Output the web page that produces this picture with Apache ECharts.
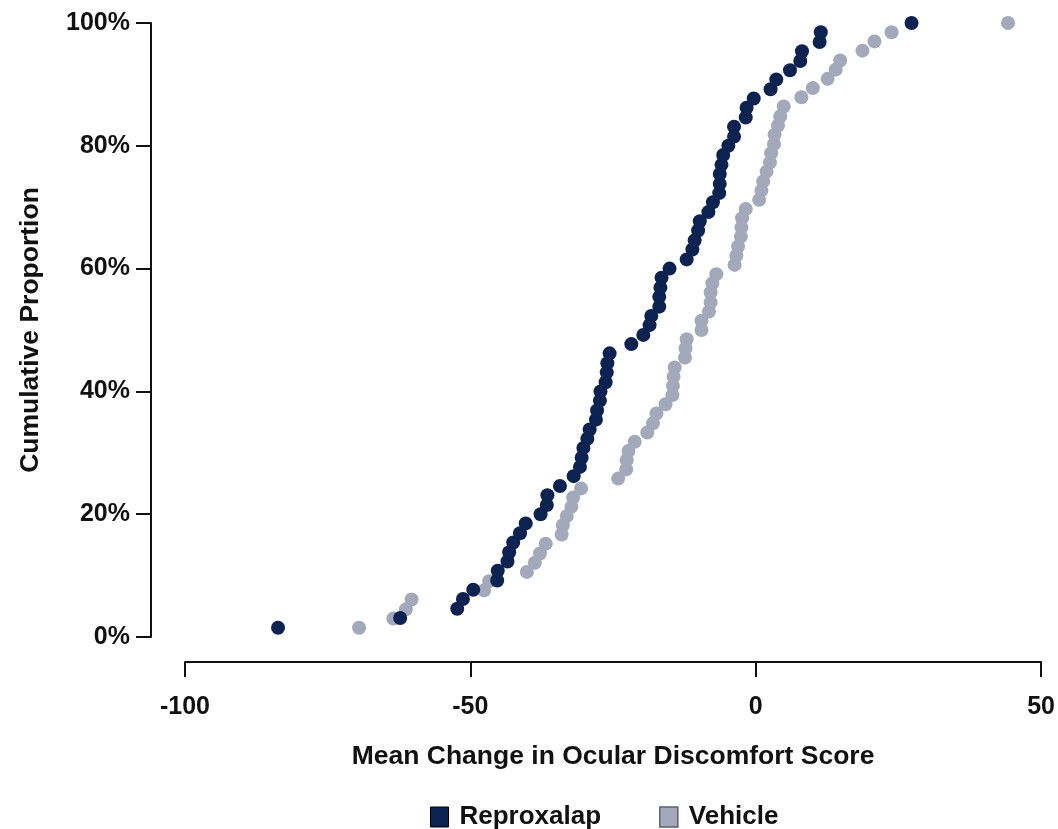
<!DOCTYPE html>
<html>
	<head>
		<meta charset="utf-8" />
		<title>Cumulative Proportion</title>
		<style>
			html, body {
				width: 100%;
				height: 100%;
				margin: 0;
				padding: 0;
				background: #fff;
			}

			#main {
				width: 1058px;
				height: 829px;
			}
		</style>
	</head>
	<body>
		<div id="main"></div>
		<script src="https://cdn.jsdelivr.net/npm/echarts@6/dist/echarts.min.js"></script>
		<script>
			// values
			var reproxX = [-83.7, -62.3, -52.3, -51.3, -49.5, -45.3, -45.2, -43.5, -43.2, -42.5,
				-41.3, -40.3, -37.7, -36.6, -36.5, -34.3, -31.9, -30.8, -30.5, -30.2,
				-29.5, -29.1, -28.0, -27.8, -27.3, -27.2, -26.3, -26.1, -26.0, -25.6,
				-21.8, -19.7, -18.6, -18.3, -16.9, -16.9, -16.7, -16.5, -15.1, -12.1,
				-11.1, -10.7, -10.1, -9.8, -8.3, -7.5, -6.4, -6.3, -6.3, -6.0,
				-5.7, -4.8, -3.8, -3.8, -1.75, -1.6, -0.35, 2.6, 3.6, 6.0,
				7.8, 8.1, 11.2, 11.4, 27.3];
			var reproxY = [1.5, 3.1, 4.6, 6.2, 7.7, 9.2, 10.8, 12.3, 13.8, 15.4,
				16.9, 18.5, 20.0, 21.5, 23.1, 24.6, 26.2, 27.7, 29.2, 30.8,
				32.3, 33.8, 35.4, 36.9, 38.5, 40.0, 41.5, 43.1, 44.6, 46.2,
				47.7, 49.2, 50.8, 52.3, 53.8, 55.4, 56.9, 58.5, 60.0, 61.5,
				63.1, 64.6, 66.2, 67.7, 69.2, 70.8, 72.3, 73.8, 75.4, 76.9,
				78.5, 80.0, 81.5, 83.1, 84.6, 86.2, 87.7, 89.2, 90.8, 92.3,
				93.8, 95.4, 96.9, 98.5, 100];

			var vehicleX = [-69.5, -63.5, -61.3, -60.3, -47.6, -46.7, -40.1, -38.7, -37.8, -36.8,
				-34.0, -33.8, -33.1, -32.3, -32.0, -30.6, -24.1, -22.7, -22.6, -22.3,
				-21.2, -19.0, -18.0, -17.4, -15.8, -14.6, -14.5, -14.4, -14.2, -12.4,
				-12.3, -12.1, -9.5, -9.5, -8.2, -7.9, -7.9, -7.6, -6.9, -3.7,
				-3.4, -3.1, -2.6, -2.5, -2.4, -1.75, 0.6, 1.0, 1.3, 1.9,
				2.5, 2.7, 3.2, 3.3, 3.9, 4.3, 4.9, 8.0, 10.0, 12.6,
				14.0, 14.8, 18.7, 20.8, 23.8, 44.2];
			var vehicleY = [1.5, 3.0, 4.5, 6.1, 7.6, 9.1, 10.6, 12.1, 13.6, 15.2,
				16.7, 18.2, 19.7, 21.2, 22.7, 24.2, 25.8, 27.3, 28.8, 30.3,
				31.8, 33.3, 34.8, 36.4, 37.9, 39.4, 40.9, 42.4, 43.9, 45.5,
				47.0, 48.5, 50.0, 51.5, 53.0, 54.5, 56.1, 57.6, 59.1, 60.6,
				62.1, 63.6, 65.2, 66.7, 68.2, 69.7, 71.2, 72.7, 74.2, 75.8,
				77.3, 78.8, 80.3, 81.8, 83.3, 84.8, 86.4, 87.9, 89.4, 90.9,
				92.4, 93.9, 95.5, 97.0, 98.5, 100];

			var xTicks = [-100, -50, 0, 50];
			var yTicks = [0, 20, 40, 60, 80, 100];

			var navy = '#0c2250';
			var grey = '#a3a9ba';
			var font = "'Liberation Sans', Arial, sans-serif";

			function pairs(xs, ys) {
				var out = [];
				for (var i = 0; i < xs.length; i++) {
					out.push([xs[i], ys[i]]);
				}
				return out;
			}

			var axisLine = { show: true, onZero: false, lineStyle: { color: '#111', width: 2 } };
			var axisTick = { show: true, length: 15, lineStyle: { color: '#111', width: 2 } };

			var chart = echarts.init(document.getElementById('main'), null, { renderer: 'canvas' });
			chart.setOption({
				animation: false,
				backgroundColor: '#fff',
				textStyle: { fontFamily: font },
				grid: { left: 185, right: 16, top: 23, bottom: 192 },
				legend: {
					left: 425,
					top: 799,
					itemWidth: 18,
					itemHeight: 20,
					itemGap: 58,
					icon: 'rect',
					textStyle: { fontFamily: font, fontSize: 26, fontWeight: 'bold', color: '#111', padding: [0, 0, 0, 6] },
					data: [
						{ name: 'Reproxalap', itemStyle: { color: navy, borderColor: '#000', borderWidth: 1 } },
						{ name: 'Vehicle', itemStyle: { color: grey, borderColor: '#5c6070', borderWidth: 1.5 } }
					]
				},
				xAxis: {
					type: 'value',
					min: xTicks[0],
					max: xTicks[xTicks.length - 1],
					interval: 50,
					offset: 25,
					name: 'Mean Change in Ocular Discomfort Score',
					nameLocation: 'middle',
					nameGap: 81,
					nameTextStyle: { fontFamily: font, fontSize: 26.5, fontWeight: 'bold', color: '#111' },
					axisLine: axisLine,
					axisTick: axisTick,
					splitLine: { show: false },
					axisLabel: { margin: 33, fontFamily: font, fontSize: 25, fontWeight: 'bold', color: '#111' }
				},
				yAxis: {
					type: 'value',
					min: yTicks[0],
					max: yTicks[yTicks.length - 1],
					interval: 20,
					offset: 34,
					name: 'Cumulative Proportion',
					nameLocation: 'middle',
					nameGap: 107,
					nameTextStyle: { fontFamily: font, fontSize: 26.5, fontWeight: 'bold', color: '#111' },
					axisLine: axisLine,
					axisTick: axisTick,
					splitLine: { show: false },
					axisLabel: { margin: 21, fontFamily: font, fontSize: 25, fontWeight: 'bold', color: '#111', formatter: '{value}%' }
				},
				series: [
					{
						name: 'Vehicle',
						type: 'scatter',
						symbolSize: 14,
						itemStyle: { color: grey, opacity: 1 },
						data: pairs(vehicleX, vehicleY)
					},
					{
						name: 'Reproxalap',
						type: 'scatter',
						symbolSize: 14,
						itemStyle: { color: navy, opacity: 1 },
						data: pairs(reproxX, reproxY)
					}
				]
			});
		</script>
	</body>
</html>
